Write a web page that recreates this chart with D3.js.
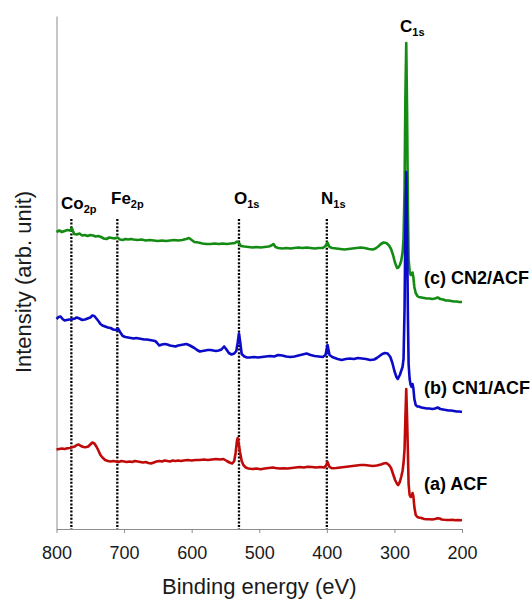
<!DOCTYPE html>
<html>
<head>
<meta charset="utf-8">
<script src="https://cdn.jsdelivr.net/npm/d3@7"></script>
<style>
  body { margin: 0; background: #fff; }
  svg { display: block; font-family: "Liberation Sans", Arial, sans-serif; }
</style>
</head>
<body>
<div id="chart"></div>
<script>
// XPS survey spectra, [binding energy (eV), intensity (arb.)]
const energyTicks = [800, 700, 600, 500, 400, 300, 200];
const refLines = [778, 710, 530, 400];
const refTop = 310;

const acf = [
  [800,79.5],[796,80],[792,80.5],[788,80],[784,80.7],[780,81],[777,81.7],[773,82.5],[770,84],[767,84.5],
  [764,83],[760,82],[757,81.7],[753,82.5],[750,84.5],[747,86.5],[744,85.5],[741,82.5],[738,78.5],[735,74],
  [732,71.5],[728,69],[724,68],[720,67.5],[716,68],[712,67.5],[708,67],[704,68],[700,67.5],[696,67],
  [692,67.5],[688,67],[684,68],[680,67.5],[676,67],[672,66.5],[668,67],[664,66],[660,65.5],[656,66.5],
  [652,67.5],[648,68],[644,67.5],[640,68.5],[636,68],[632,67.5],[628,68.5],[624,68],[620,68.5],[616,68],
  [612,68.5],[606,69],[600,68.5],[594,69],[588,69],[582,69.5],[576,69],[570,69.5],[564,70],[558,69.5],
  [553,70],[548,68],[544,66.5],[540,65.5],[537,68],[535,76],[533,88],[532,91],[530.5,86],[528.5,77],
  [526,68],[523.5,64],[520,61.5],[516,60.5],[510,60],[504,60.5],[498,59.8],[492,60.5],[486,61],[480,61.5],
  [476,61],[470,60.5],[464,60.8],[458,60.5],[452,61],[446,61.5],[440,62],[434,61.5],[428,62.3],[422,62],
  [416,61.5],[410,62],[404,61.5],[401,63.5],[399,67],[396,62],[392,60.7],[386,61],[380,61.5],[374,62],
  [368,62.5],[362,63],[356,63.5],[350,64],[344,64],[338,63.5],[332,63],[326,63.5],[320,64.5],[316,65.5],
  [312,66],[308,64],[305,61],[302,55],[299,49],[296,45],[294.5,44],[292,47],[290,52],[288,58],
  [286.5,66],[285,80],[283.8,110],[282.5,140],[281.3,112],[280,75],[279,45],[277.5,34],[276,32],[274.5,33],
  [273.2,36],[272,33],[270.5,22],[268.5,14],[266,12],[264,11.5],[260,11],[256,10],[252,9.7],[248,9.8],
  [244,9.5],[240,10],[236,10.8],[233,10.5],[230,9.5],[226,9.2],[222,9],[218,9],[214,9.2],[210,8.8],
  [206,9],[202,8.8],[200,9]
];

const cn1 = [
  [800,210],[797,212],[794,212.5],[791,210],[788,208.5],[785,209],[781,209.5],[777,209.7],[773,210.5],[770,211.5],
  [766,210.5],[762,209],[758,209.5],[754,210.5],[750,211.5],[747,213.5],[744,213],[741,210.5],[738,208],[735,205],
  [732,203.5],[728,202.5],[724,201.5],[720,201],[716,199.5],[712,199],[709,200.5],[706,197],[702,193],[698,192],
  [694,191.5],[690,191],[686,190.5],[682,191],[678,190.5],[674,190],[670,189.5],[666,189.5],[662,189],[658,188.5],
  [654,188],[651,186],[648,183.5],[644,184.5],[640,185],[636,184.5],[632,183.5],[628,183],[624,182.5],[620,183.5],
  [616,184],[612,184.5],[608,185],[604,184],[600,182.5],[596,181],[592,179],[588,177.5],[584,178],[580,178.5],
  [576,179],[572,179],[568,178.5],[564,178],[560,178.5],[556,179.5],[552,182.5],[549,180],[545,176],[541,174.5],
  [537,175.5],[534,178],[532,186],[530,195.5],[528,186],[526,175],[522,172.5],[518,171.5],[514,171.5],[508,172],
  [502,171.5],[496,172],[490,172.5],[484,173],[478,172.5],[472,174],[466,173.5],[460,172.5],[454,172],[448,172.5],
  [442,173.5],[436,174.5],[430,175.5],[424,174],[418,173],[412,172.5],[406,172],[402,174],[399,184],[396,174],
  [392,172],[388,171],[384,170],[378,169],[372,170],[366,170.5],[360,170],[354,171],[348,170.5],[342,170],
  [336,169],[330,169.5],[326,171],[322,173],[318,175],[314,176],[310,175.5],[306,172],[303,166],[300,158],
  [297,152],[295,150],[292,154],[290,158],[288,162],[286.5,170],[285,220],[283.8,300],[282.5,357],[281.3,300],
  [280,210],[279,165],[277.5,150],[276,144],[274.5,142],[273.2,145],[272,141],[270.5,130],[268.5,124],[266,122.5],
  [264,122.5],[260,121.5],[256,121],[252,120.5],[248,120.5],[244,120],[240,120.5],[236,121.5],[232,120],[228,119.5],
  [224,119],[220,118.5],[216,118.5],[212,118],[208,117.5],[204,117.5],[200,117]
];

const cn2 = [
  [800,297],[796,298.5],[792,297],[788,298],[784,299],[780,298.5],[777,300.5],[774,295],[770,294.5],[766,295.5],
  [762,293.5],[758,294],[754,293],[750,294],[746,293.5],[742,292.5],[738,293],[734,292],[730,290.5],[726,290],
  [722,291.5],[718,291],[714,290.5],[710,291.5],[706,289.5],[702,289],[698,290],[694,289.5],[690,290],[686,289.5],
  [680,289],[674,289.5],[668,288.5],[662,289],[656,288.5],[650,288],[644,288.5],[638,288],[632,288.5],[626,289],
  [620,288.5],[614,289],[608,290],[604,291],[600,289],[596,287],[590,286.5],[584,285.5],[578,285],[572,285],
  [566,285.5],[560,285],[554,285.5],[548,285],[542,285.5],[536,286],[533,287.5],[530,286],[527,283],[522,282.5],
  [516,282],[510,281.5],[504,282],[498,281.5],[492,282],[486,282.5],[482,283.5],[479,285],[476,282],[472,281],
  [466,280.5],[460,281],[454,280.5],[448,281],[442,281.5],[436,281],[430,281.5],[424,281],[418,280.5],[412,281],
  [406,281],[402,283],[399,286.5],[396,282],[392,281],[386,280.5],[380,280],[374,279.5],[368,280],[362,280.5],
  [356,281],[350,281.5],[344,281],[338,280],[332,279.5],[328,280.5],[324,282.5],[320,285],[316,286.5],[312,286],
  [308,283.5],[305,280],[302,274],[299,266],[296,261],[294,261.5],[292,264],[290,268],[288,276],[286.5,290],
  [285,340],[283.8,430],[282.5,486],[281.3,420],[280,320],[279,270],[277.5,258],[276,254],[274.5,254],[273.2,256.5],
  [272,252],[270.5,242],[268.5,236],[266,233],[264,232],[260,231.5],[256,231],[252,230.5],[248,230.5],[244,230],
  [240,230.5],[236,231.5],[232,230],[228,229.5],[224,228.5],[220,228.5],[216,228],[212,227.5],[208,227.5],[204,227],
  [200,227]
];

const seriesNames = ['(c) CN2/ACF', '(b) CN1/ACF', '(a) ACF'];
const seriesData = [cn2, cn1, acf];
const seriesColors = ['#148c14', '#0a0ac8', '#c00a0a'];

const peakMain = ['Co', 'Fe', 'O', 'N', 'C'];
const peakSub = ['2p', '2p', '1s', '1s', '1s'];

// layout
const W = 531, H = 599;
const peakPos = [[61, 209], [111, 204], [234, 204], [321, 204], [400, 32]];
const seriesLabelPos = [[424, 284], [424, 394], [424, 490]];

const svg = d3.select('#chart').append('svg')
  .attr('width', W)
  .attr('height', H);

const x = d3.scaleLinear().domain([800, 200]).range([56.5, 462]);
const y = d3.scaleLinear().domain([0, 513]).range([529, 16]);

// axes
const xAxis = svg.append('g')
  .attr('transform', `translate(0,${y(0)})`)
  .call(d3.axisBottom(x).tickValues(energyTicks).tickSize(4).tickSizeOuter(0).tickPadding(13).tickFormat(d3.format('d')));
xAxis.select('.domain').attr('stroke', '#8c8c8c');
xAxis.selectAll('.tick line').attr('stroke', '#8c8c8c');
xAxis.selectAll('.tick text')
  .attr('font-family', '"Liberation Sans", Arial, sans-serif')
  .attr('font-size', 18)
  .attr('fill', '#1a1a1a');

const yAxis = svg.append('g')
  .attr('transform', `translate(${x(800)},0)`)
  .call(d3.axisLeft(y).tickValues([]).tickSizeOuter(0));
yAxis.select('.domain').attr('stroke', '#8c8c8c');

// reference dotted lines
svg.selectAll('.ref')
  .data(refLines)
  .enter()
  .append('line')
  .attr('class', 'ref')
  .attr('x1', d => x(d))
  .attr('x2', d => x(d))
  .attr('y1', y(refTop))
  .attr('y2', y(0))
  .attr('stroke', '#000')
  .attr('stroke-width', 2.3)
  .attr('stroke-dasharray', '2,1.6');

// spectra
const line = d3.line().x(d => x(d[0])).y(d => y(d[1]));
svg.selectAll('.spec')
  .data(seriesData)
  .enter()
  .append('path')
  .attr('class', 'spec')
  .attr('d', line)
  .attr('fill', 'none')
  .attr('stroke', (d, i) => seriesColors[i])
  .attr('stroke-width', 2.6)
  .attr('stroke-linejoin', 'round');

// peak labels
const peaks = svg.selectAll('.peak')
  .data(peakMain)
  .enter()
  .append('text')
  .attr('class', 'peak')
  .attr('x', (d, i) => peakPos[i][0])
  .attr('y', (d, i) => peakPos[i][1])
  .attr('font-weight', 'bold')
  .attr('font-size', 17)
  .attr('fill', '#000');
peaks.append('tspan').text(d => d);
peaks.append('tspan')
  .attr('dy', 4)
  .attr('font-size', 11)
  .text((d, i) => peakSub[i]);

// series labels
svg.selectAll('.slabel')
  .data(seriesNames)
  .enter()
  .append('text')
  .attr('class', 'slabel')
  .attr('x', (d, i) => seriesLabelPos[i][0])
  .attr('y', (d, i) => seriesLabelPos[i][1])
  .attr('font-weight', 'bold')
  .attr('font-size', 18)
  .attr('fill', '#000')
  .text(d => d);

// axis titles
svg.append('text')
  .attr('x', (x(800) + x(200)) / 2)
  .attr('y', 594)
  .attr('text-anchor', 'middle')
  .attr('font-size', 22)
  .attr('fill', '#1a1a1a')
  .text('Binding energy (eV)');

svg.append('text')
  .attr('transform', 'translate(31,282) rotate(-90)')
  .attr('text-anchor', 'middle')
  .attr('font-size', 22)
  .attr('fill', '#1a1a1a')
  .text('Intensity (arb. unit)');
</script>
</body>
</html>
